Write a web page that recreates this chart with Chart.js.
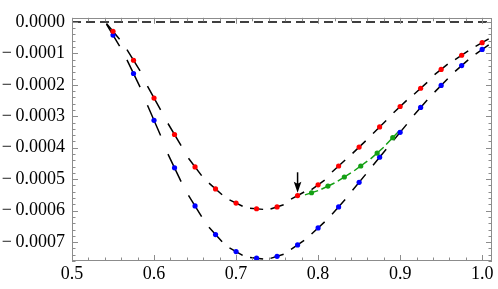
<!DOCTYPE html>
<html>
<head>
<meta charset="utf-8">
<script src="https://cdn.jsdelivr.net/npm/chart.js@4.4.1/dist/chart.umd.min.js"></script>
<style>
  html, body { margin: 0; padding: 0; background: #fff; }
  #wrap { width: 498px; height: 289px; }
</style>
</head>
<body>
<div id="wrap"><canvas id="chart"></canvas></div>
<script>
// sample positions shared by the red and blue series
const xValues = [0.55, 0.575, 0.6, 0.625, 0.65, 0.675, 0.7, 0.725, 0.75, 0.775,
                 0.8, 0.825, 0.85, 0.875, 0.9, 0.925, 0.95, 0.975, 1.0];
const redValues = [-0.000030, -0.000122, -0.000242, -0.000358, -0.000461, -0.000531,
                   -0.000576, -0.000594, -0.000588, -0.000552, -0.000518, -0.000458,
                   -0.000398, -0.000334, -0.000269, -0.000211, -0.000151, -0.000106, -0.000066];
const blueValues = [-0.000042, -0.000164, -0.000313, -0.000464, -0.000585, -0.000676,
                    -0.000730, -0.000751, -0.000745, -0.000709, -0.000655, -0.000588,
                    -0.000510, -0.000430, -0.000351, -0.000272, -0.000202, -0.000139, -0.0000875];
const greenX = [0.792, 0.812, 0.832, 0.852, 0.872, 0.891];
const greenValues = [-0.000543, -0.000522, -0.000493, -0.000458, -0.000417, -0.000368];

const xTicks = [0.5, 0.6, 0.7, 0.8, 0.9, 1.0];
const yTicks = [0, -0.0001, -0.0002, -0.0003, -0.0004, -0.0005, -0.0006, -0.0007];

// arrow marking the branch point
const arrowX = 0.775;
const arrowTop = -0.000478;
const arrowTip = -0.000543;

const X_MIN = 0.5, X_MAX = 1.012;
const Y_MIN = -0.00076, Y_MAX = 0.000013;
const HALF = 0.008; // half width (in x) of the short tangent strokes

function toPoints(xs, ys) {
  return xs.map((x, i) => ({ x: x, y: ys[i] }));
}

// short tangent stroke through every sample, slope from neighbouring samples
function tangentStrokes(xs, ys) {
  const out = [];
  const n = xs.length - 1;
  for (let i = 0; i <= n; i++) {
    let s;
    if (i === 0) s = (-3 * ys[0] + 4 * ys[1] - ys[2]) / (xs[2] - xs[0]);
    else if (i === n) s = (3 * ys[n] - 4 * ys[n - 1] + ys[n - 2]) / (xs[n] - xs[n - 2]);
    else s = (ys[i + 1] - ys[i - 1]) / (xs[i + 1] - xs[i - 1]);
    out.push({ x: xs[i] - HALF, y: ys[i] - s * HALF });
    out.push({ x: xs[i] + HALF, y: ys[i] + s * HALF });
    out.push({ x: xs[i] + HALF, y: null });
  }
  return out;
}

function fmtY(v) {
  if (Math.abs(v) < 1e-12) return '0.0000';
  return (v < 0 ? '\u2212\u2009' : '') + Math.abs(v).toFixed(4);
}

const frameColor = '#8c8c8c';

const framePlugin = {
  id: 'frame',
  afterDatasetsDraw(chart) {
    const { ctx, chartArea: a, scales: { x, y } } = chart;
    ctx.save();
    ctx.strokeStyle = frameColor;
    ctx.lineWidth = 1;
    ctx.strokeRect(Math.round(a.left) + 0.5, Math.round(a.top) + 0.5,
                   Math.round(a.right - a.left) - 1, Math.round(a.bottom - a.top) - 1);

    ctx.beginPath();
    // x ticks, minor every 0.02
    for (let k = 0; k <= 26; k++) {
      const v = 0.5 + k * 0.02;
      if (v > X_MAX) break;
      const px = Math.round(x.getPixelForValue(v)) + 0.5;
      const len = (k % 5 === 0) ? 6 : 3.5;
      ctx.moveTo(px, a.bottom); ctx.lineTo(px, a.bottom - len);
      ctx.moveTo(px, a.top); ctx.lineTo(px, a.top + len);
    }
    // y ticks, minor every 0.00002
    for (let k = 0; k <= 38; k++) {
      const v = -k * 0.00002;
      if (v < Y_MIN) break;
      const py = Math.round(y.getPixelForValue(v)) + 0.5;
      const len = (k % 5 === 0) ? 6 : 3.5;
      ctx.moveTo(a.left, py); ctx.lineTo(a.left + len, py);
      ctx.moveTo(a.right, py); ctx.lineTo(a.right - len, py);
    }
    ctx.stroke();

    // arrow
    const ax = x.getPixelForValue(arrowX);
    const ay0 = y.getPixelForValue(arrowTop);
    const ay1 = y.getPixelForValue(arrowTip);
    ctx.strokeStyle = '#000';
    ctx.fillStyle = '#000';
    ctx.lineWidth = 1.5;
    ctx.beginPath();
    ctx.moveTo(ax, ay0); ctx.lineTo(ax, ay1 - 8);
    ctx.stroke();
    ctx.beginPath();
    ctx.moveTo(ax, ay1);
    ctx.lineTo(ax - 3.8, ay1 - 11);
    ctx.lineTo(ax, ay1 - 9);
    ctx.lineTo(ax + 3.8, ay1 - 11);
    ctx.closePath();
    ctx.fill();
    ctx.restore();
  }
};

const dotStyle = (c) => ({
  showLine: false,
  pointRadius: 2.6,
  pointHoverRadius: 2.6,
  pointBackgroundColor: c,
  pointBorderColor: c,
  pointBorderWidth: 0
});

const strokeStyle = (c) => ({
  showLine: true,
  spanGaps: false,
  borderColor: c,
  borderWidth: 1.5,
  pointRadius: 0,
  tension: 0
});

new Chart(document.getElementById('chart'), {
  type: 'scatter',
  data: {
    datasets: [
      { data: toPoints(greenX, greenValues), ...dotStyle('#14a014') },
      { data: toPoints(xValues, redValues), ...dotStyle('#ff0000') },
      { data: toPoints(xValues, blueValues), ...dotStyle('#0000ff') },
      { data: tangentStrokes(greenX, greenValues), ...strokeStyle('#14a014') },
      { data: tangentStrokes(xValues, redValues), ...strokeStyle('#000') },
      { data: tangentStrokes(xValues, blueValues), ...strokeStyle('#000') },
      { data: [{ x: X_MIN, y: 0 }, { x: X_MAX, y: 0 }], ...strokeStyle('#000'), borderDash: [9, 5] }
    ]
  },
  plugins: [framePlugin],
  options: {
    responsive: true,
    maintainAspectRatio: false,
    devicePixelRatio: 1,
    animation: false,
    layout: { padding: { top: 5, right: 6, left: 0, bottom: 0 } },
    plugins: { legend: { display: false }, tooltip: { enabled: false } },
    scales: {
      x: {
        type: 'linear',
        min: X_MIN,
        max: X_MAX,
        afterBuildTicks: (s) => { s.ticks = xTicks.map(v => ({ value: v })); },
        afterFit: (s) => { s.height = 28; },
        grid: { display: false, drawTicks: false },
        border: { display: false },
        ticks: {
          color: '#000',
          padding: 2,
          maxRotation: 0,
          font: { family: 'Liberation Serif', size: 18 },
          callback: (v) => Number(v).toFixed(1)
        }
      },
      y: {
        type: 'linear',
        min: Y_MIN,
        max: Y_MAX,
        afterBuildTicks: (s) => { s.ticks = yTicks.map(v => ({ value: v })); },
        afterFit: (s) => { s.width = 72; },
        grid: { display: false, drawTicks: false },
        border: { display: false },
        ticks: {
          color: '#000',
          padding: 7,
          font: { family: 'Liberation Serif', size: 18 },
          callback: (v) => fmtY(v)
        }
      }
    }
  }
});
</script>
</body>
</html>
